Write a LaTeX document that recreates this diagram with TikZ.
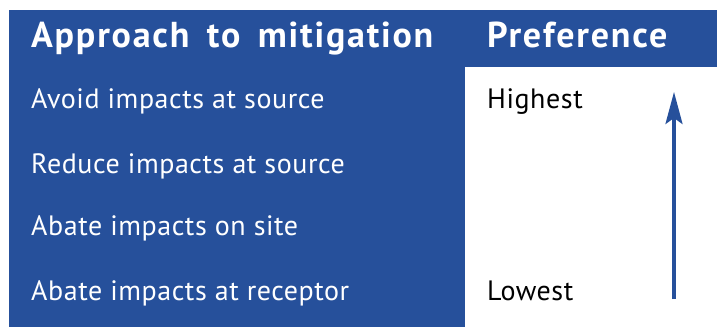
\documentclass[tikz,border=0pt]{standalone}
\usepackage{fontspec}
\setmainfont{PT Sans}
\newfontfamily\hfont[LetterSpace=5.0,WordSpace=1.6]{PT Sans}
\newfontfamily\bfont[LetterSpace=2.0]{PT Sans}
\usetikzlibrary{arrows.meta}
\definecolor{tblblue}{RGB}{38,80,155}
\tikzset{
  px/.style={x=1pt,y=-1pt},
  bodytext/.style={anchor=base west,inner sep=0pt,font=\bfont\fontsize{28}{30}\selectfont},
  headtext/.style={anchor=base west,inner sep=0pt,text=white,font=\hfont\fontsize{36}{40}\selectfont\bfseries},
  rowtext/.style={bodytext,text=white},
  preftext/.style={bodytext,text=black},
  prefarrow/.style={draw=tblblue,line width=3.2pt,-{Stealth[length=32pt,width=17pt,inset=6pt]}}
}
\begin{document}
\begin{tikzpicture}[px]
\useasboundingbox (0,0) rectangle (717,327);
\fill[white] (0,0) rectangle (717,327);
\fill[tblblue] (9,10) rectangle (717,327);
\fill[white] (465,67) rectangle (717,327);
\node[headtext] (h1) at (31,47) {Approach to mitigation};
\node[headtext] (h2) at (487,47) {Preference};
\node[rowtext] (r1) at (31,108) {Avoid impacts at source};
\node[rowtext] (r2) at (31,173) {Reduce impacts at source};
\node[rowtext] (r3) at (31,235) {Abate impacts on site};
\node[rowtext] (r4) at (31,300) {Abate impacts at receptor};
\node[preftext] (hi) at (487,108) {Highest};
\node[preftext] (lo) at (487,300) {Lowest};
\coordinate (abot) at (674,299);
\coordinate (atop) at (674,92);
\draw[prefarrow] (abot) -- (atop);
\end{tikzpicture}
\end{document}
